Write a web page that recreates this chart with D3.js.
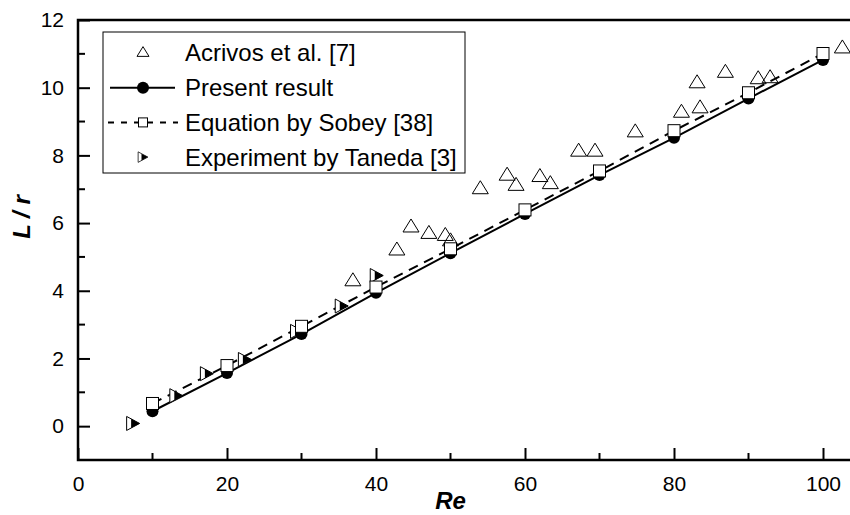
<!DOCTYPE html>
<html>

<head>
  <meta charset="utf-8">
  <title>L/r vs Re</title>
  <script src="https://cdnjs.cloudflare.com/ajax/libs/d3/7.8.5/d3.min.js"></script>
  <style>
    body {
      margin: 0;
      background: #FFF;
    }

    svg {
      font-family: "Liberation Sans", Arial, sans-serif;
    }

    .tick-label {
      font-size: 21px;
    }

    .axis-title {
      font-size: 24px;
      font-weight: bold;
      font-style: italic;
    }

    .legend-text {
      font-size: 24px;
    }
  </style>
</head>

<body>
  <div class="chart"></div>
</body>
<script>
  // Present result and Sobey equation, sampled at Re = 10..100
  const reGrid = [10, 20, 30, 40, 50, 60, 70, 80, 90, 100];
  const presentL = [0.44, 1.57, 2.72, 3.94, 5.11, 6.27, 7.42, 8.52, 9.68, 10.82];
  const sobeyL = [0.67, 1.79, 2.95, 4.11, 5.24, 6.39, 7.54, 8.73, 9.85, 11.01];

  // Acrivos et al. [7]
  const acrivosRe = [36.9, 42.8, 44.7, 47.1, 49.3, 50.0, 54.0, 57.6, 58.8, 62.0, 63.4,
    67.2, 69.4, 74.8, 81.0, 83.1, 83.5, 86.9, 91.3, 92.9, 102.6];
  const acrivosL = [4.28, 5.19, 5.87, 5.68, 5.62, 5.46, 7.00, 7.40, 7.10, 7.36, 7.15,
    8.11, 8.11, 8.68, 9.26, 10.13, 9.39, 10.44, 10.25, 10.28, 11.16];

  // Experiment by Taneda [3]
  const tanedaRe = [7.4, 13.2, 17.3, 22.4, 29.4, 35.4, 40.1];
  const tanedaL = [0.08, 0.90, 1.55, 1.97, 2.80, 3.55, 4.45];

  const xTicks = [0, 20, 40, 60, 80, 100];
  const yTicks = [0, 2, 4, 6, 8, 10, 12];
  const legendLabels = ['Acrivos et al. [7]', 'Present result', 'Equation by Sobey [38]', 'Experiment by Taneda [3]'];

  const W = 850, H = 515;
  const margin = { left: 78, top: 20 };
  const plotH = 440;
  const pxPerRe = 7.45;

  const x = d3.scaleLinear().domain([0, 105]).range([margin.left, margin.left + 105 * pxPerRe]);
  const y = d3.scaleLinear().domain([-1, 12]).range([margin.top + plotH, margin.top]);

  const svg = d3.select('.chart')
    .append('svg')
    .attr('width', W)
    .attr('height', H);

  const zip = (a, b) => a.map((v, i) => ({ x: v, y: b[i] }));
  const present = zip(reGrid, presentL);
  const sobey = zip(reGrid, sobeyL);
  const acrivos = zip(acrivosRe, acrivosL);
  const taneda = zip(tanedaRe, tanedaL);

  // frame: bottom/left axes with inward ticks, top border
  const x0 = x.range()[0], x1 = x.range()[1];
  const yb = y(-1), yt = y(12);

  const minorX = d3.range(10, 105, 20);
  const minorY = d3.range(1, 12, 2);

  const axisX = d3.axisBottom(x).tickValues(xTicks).tickSize(-12).tickPadding(16).tickFormat(d3.format('d'));
  const gx = svg.append('g').attr('transform', `translate(0, ${yb})`).call(axisX);
  gx.select('.domain').remove();
  gx.selectAll('.tick line').attr('stroke-width', 2);
  gx.selectAll('.tick text').attr('class', 'tick-label').attr('fill', '#000').attr('font-size', null);
  svg.append('g').selectAll('line').data(minorX).join('line')
    .attr('x1', d => x(d)).attr('x2', d => x(d))
    .attr('y1', yb).attr('y2', yb - 7)
    .attr('stroke', '#000').attr('stroke-width', 2);

  const axisY = d3.axisLeft(y).tickValues(yTicks).tickSize(-12).tickPadding(14).tickFormat(d3.format('d'));
  const gy = svg.append('g').attr('transform', `translate(${x0}, 0)`).call(axisY);
  gy.select('.domain').remove();
  gy.selectAll('.tick line').attr('stroke-width', 2);
  gy.selectAll('.tick text').attr('class', 'tick-label').attr('fill', '#000').attr('font-size', null);
  svg.append('g').selectAll('line').data(minorY).join('line')
    .attr('x1', x0).attr('x2', x0 + 7)
    .attr('y1', d => y(d)).attr('y2', d => y(d))
    .attr('stroke', '#000').attr('stroke-width', 2);

  svg.append('path')
    .attr('d', `M${x1},${yt}H${x0}V${yb}H${x1}Z`)
    .attr('fill', 'none')
    .attr('stroke', '#000')
    .attr('stroke-width', 2.5);

  // axis titles
  svg.append('text')
    .attr('class', 'axis-title')
    .attr('x', x(50))
    .attr('y', 509)
    .attr('text-anchor', 'middle')
    .text('Re');

  svg.append('text')
    .attr('class', 'axis-title')
    .attr('transform', `translate(30, 217) rotate(-90)`)
    .attr('text-anchor', 'middle')
    .text('L / r');

  // marker shapes
  const triUp = 'M0,-8.5L8,4.5L-8,4.5Z';
  function tanedaMarker(g) {
    g.append('path').attr('d', 'M-6.5,-7L6.5,0L-6.5,7Z')
      .attr('fill', '#FFF').attr('stroke', '#000').attr('stroke-width', 1);
    g.append('path').attr('d', 'M-2,-4.6L6.5,0L-2,4.6Z')
      .attr('fill', '#000');
  }
  function circleMarker(g) {
    g.append('circle').attr('r', 6).attr('fill', '#000');
  }
  function squareMarker(g) {
    g.append('rect').attr('x', -6).attr('y', -6).attr('width', 12).attr('height', 12)
      .attr('fill', '#FFF').attr('stroke', '#000').attr('stroke-width', 1);
  }

  const plot = svg.append('g');

  // Acrivos open triangles
  plot.append('g').selectAll('path').data(acrivos).join('path')
    .attr('transform', d => `translate(${x(d.x)}, ${y(d.y)})`)
    .attr('d', triUp)
    .attr('fill', 'none')
    .attr('stroke', '#000')
    .attr('stroke-width', 1);

  const line = d3.line().x(d => x(d.x)).y(d => y(d.y));

  plot.append('path').datum(present)
    .attr('d', line)
    .attr('fill', 'none').attr('stroke', '#000').attr('stroke-width', 2);

  plot.append('path').datum(sobey)
    .attr('d', line)
    .attr('fill', 'none').attr('stroke', '#000').attr('stroke-width', 2)
    .attr('stroke-dasharray', '10,7');

  plot.append('g').selectAll('g').data(taneda).join('g')
    .attr('transform', d => `translate(${x(d.x)}, ${y(d.y)})`)
    .each(function () { tanedaMarker(d3.select(this)); });

  plot.append('g').selectAll('g').data(present).join('g')
    .attr('transform', d => `translate(${x(d.x)}, ${y(d.y)})`)
    .each(function () { circleMarker(d3.select(this)); });

  plot.append('g').selectAll('g').data(sobey).join('g')
    .attr('transform', d => `translate(${x(d.x)}, ${y(d.y)})`)
    .each(function () { squareMarker(d3.select(this)); });

  // legend
  const legend = svg.append('g');
  legend.append('rect')
    .attr('x', 103).attr('y', 32).attr('width', 362).attr('height', 141)
    .attr('fill', '#FFF').attr('stroke', '#000').attr('stroke-width', 1);

  const rowY = i => 53 + i * 34.7;
  const symX = 143;

  legend.append('path').attr('d', triUp).attr('transform', `translate(${symX}, ${rowY(0)}) scale(0.75)`)
    .attr('fill', 'none').attr('stroke', '#000').attr('stroke-width', 1.3);

  legend.append('line').attr('x1', 110).attr('x2', 175).attr('y1', rowY(1)).attr('y2', rowY(1))
    .attr('stroke', '#000').attr('stroke-width', 2);
  circleMarker(legend.append('g').attr('transform', `translate(${symX}, ${rowY(1)})`));

  legend.append('line').attr('x1', 108).attr('x2', 178).attr('y1', rowY(2)).attr('y2', rowY(2))
    .attr('stroke', '#000').attr('stroke-width', 2).attr('stroke-dasharray', '6,7');
  legend.append('rect').attr('x', symX - 4.5).attr('y', rowY(2) - 4.5).attr('width', 9).attr('height', 9)
    .attr('fill', '#FFF').attr('stroke', '#000').attr('stroke-width', 1);

  tanedaMarker(legend.append('g').attr('transform', `translate(${symX}, ${rowY(3)}) scale(0.75)`));

  legend.selectAll('text.legend-text').data(legendLabels).join('text')
    .attr('class', 'legend-text')
    .attr('x', 185)
    .attr('y', (d, i) => rowY(i))
    .attr('dy', '0.35em')
    .text(d => d);
</script>

</html>
